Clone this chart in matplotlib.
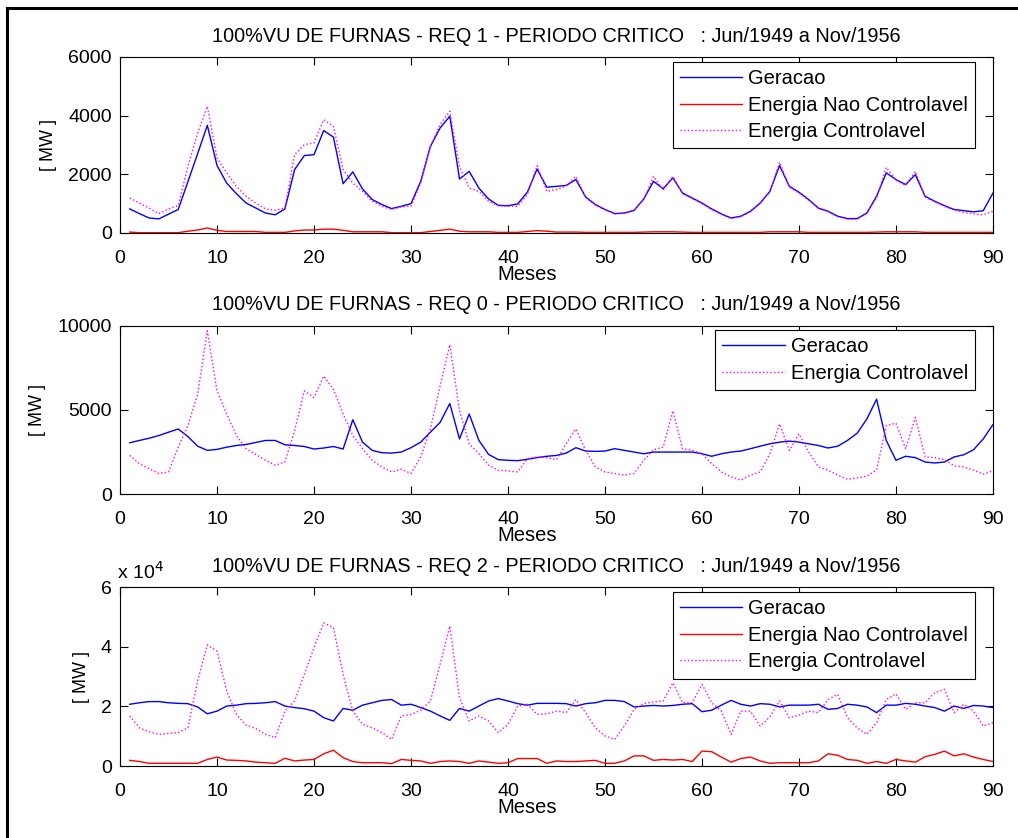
import matplotlib
matplotlib.use('Agg')
import matplotlib.pyplot as plt
from matplotlib.lines import Line2D
import numpy as np

plt.rcParams['font.family'] = ['Liberation Sans', 'DejaVu Sans']

meses = np.arange(1, 91)

# REQ 1
geracao_1 = [820, 660, 510, 480, 640, 800, 1750, 2700, 3670, 2300,
             1700, 1340, 1020, 850, 680, 620, 820, 2160, 2640, 2670,
             3490, 3270, 1680, 2080, 1500, 1140, 970, 830, 910, 1000,
             1760, 2950, 3580, 3980, 1840, 2100, 1530, 1160, 940, 930,
             990, 1390, 2180, 1560, 1590, 1620, 1820, 1230, 970, 800,
             660, 680, 770, 1160, 1760, 1510, 1880, 1360, 1190, 1020,
             820, 650, 510, 570, 740, 1020, 1420, 2300, 1590, 1390,
             1140, 850, 740, 570, 490, 490, 680, 1250, 2050, 1820,
             1650, 1990, 1250, 1080, 930, 800, 760, 720, 760, 1360]
nao_controlavel_1 = [30, 10, 10, 10, 10, 10, 60, 100, 170, 90,
                     50, 50, 50, 50, 20, 20, 20, 70, 100, 100,
                     130, 130, 90, 40, 40, 40, 40, 10, 10, 10,
                     10, 50, 90, 130, 60, 40, 40, 40, 20, 20,
                     20, 50, 80, 60, 30, 30, 30, 20, 20, 20,
                     20, 20, 20, 30, 40, 40, 40, 30, 20, 20,
                     20, 20, 20, 20, 20, 20, 40, 40, 40, 40,
                     20, 20, 20, 20, 20, 20, 20, 30, 40, 40,
                     40, 40, 20, 20, 20, 20, 20, 20, 20, 20]
controlavel_1 = [1190, 1020, 850, 660, 820, 930, 2270, 3400, 4320, 2560,
                 2050, 1590, 1250, 1020, 820, 770, 850, 2670, 3010, 3070,
                 3860, 3640, 2160, 1700, 1420, 1080, 910, 800, 890, 910,
                 1700, 2950, 3700, 4150, 2270, 1530, 1420, 1080, 930, 910,
                 910, 1310, 2300, 1420, 1480, 1600, 1930, 1210, 950, 790,
                 650, 670, 760, 1140, 1930, 1460, 1930, 1330, 1170, 1000,
                 800, 630, 490, 550, 720, 1000, 1400, 2410, 1560, 1360,
                 1120, 830, 720, 550, 470, 470, 660, 1200, 2240, 1800,
                 1620, 2100, 1220, 1060, 910, 780, 700, 650, 620, 740]

# REQ 0
geracao_0 = [3040, 3180, 3310, 3470, 3670, 3860, 3410, 2840, 2590, 2650,
             2780, 2880, 2940, 3060, 3180, 3180, 2920, 2880, 2820, 2670,
             2730, 2820, 2670, 4410, 3080, 2590, 2450, 2430, 2490, 2750,
             3080, 3670, 4250, 5370, 3270, 4750, 3180, 2350, 2040, 2000,
             1980, 2060, 2160, 2240, 2290, 2430, 2750, 2550, 2530, 2550,
             2690, 2590, 2490, 2390, 2490, 2490, 2490, 2490, 2490, 2390,
             2240, 2390, 2490, 2550, 2690, 2840, 2980, 3080, 3140, 3080,
             2980, 2880, 2730, 2840, 3180, 3610, 4450, 5630, 3180, 2000,
             2240, 2160, 1900, 1840, 1900, 2200, 2330, 2630, 3270, 4120]
controlavel_0 = [2290, 1800, 1510, 1220, 1310, 2780, 4060, 5920, 9690, 6120,
                 4750, 3470, 2690, 2350, 2000, 1710, 1900, 3760, 6120, 5730,
                 7000, 6220, 4750, 3470, 2690, 2000, 1610, 1310, 1470, 1220,
                 2200, 3860, 6410, 8860, 4940, 2980, 2390, 1710, 1410, 1370,
                 1310, 2100, 2200, 2160, 2040, 2980, 3860, 2590, 1610, 1310,
                 1220, 1120, 1220, 2000, 2630, 2780, 4940, 2690, 2590, 2390,
                 1800, 1310, 1020, 820, 1120, 1310, 2390, 4160, 2590, 3570,
                 2490, 1610, 1410, 1120, 880, 960, 1060, 1410, 4060, 4200,
                 2690, 4550, 2200, 2160, 2040, 1670, 1610, 1410, 1180, 1370]

# REQ 2 (x 10^4 MW)
geracao_2 = [2.07, 2.12, 2.16, 2.16, 2.12, 2.10, 2.09, 1.98, 1.75, 1.84,
             2.01, 2.04, 2.09, 2.10, 2.12, 2.16, 2.01, 1.96, 1.92, 1.84,
             1.62, 1.51, 1.93, 1.87, 2.04, 2.12, 2.20, 2.23, 2.04, 2.07,
             1.96, 1.84, 1.68, 1.53, 1.93, 1.84, 2.01, 2.18, 2.26, 2.18,
             2.09, 2.04, 2.10, 2.10, 2.10, 2.09, 2.01, 2.09, 2.12, 2.20,
             2.20, 2.16, 1.98, 2.01, 2.03, 2.01, 2.03, 2.07, 2.09, 1.82,
             1.87, 2.04, 2.20, 2.07, 2.01, 2.09, 2.07, 1.98, 2.04, 2.04,
             2.04, 2.07, 1.90, 1.93, 2.07, 2.04, 1.98, 1.79, 2.04, 2.04,
             2.10, 2.07, 2.01, 1.96, 1.84, 2.01, 1.93, 2.03, 2.01, 1.96]
nao_controlavel_2 = [0.19, 0.15, 0.09, 0.09, 0.09, 0.09, 0.09, 0.09, 0.22, 0.30,
                     0.20, 0.19, 0.17, 0.13, 0.11, 0.09, 0.26, 0.17, 0.20, 0.22,
                     0.41, 0.53, 0.28, 0.15, 0.11, 0.11, 0.11, 0.08, 0.22, 0.19,
                     0.17, 0.09, 0.15, 0.17, 0.15, 0.09, 0.17, 0.13, 0.09, 0.11,
                     0.25, 0.25, 0.25, 0.09, 0.17, 0.15, 0.15, 0.17, 0.19, 0.09,
                     0.09, 0.17, 0.34, 0.34, 0.19, 0.22, 0.20, 0.22, 0.15, 0.50,
                     0.48, 0.30, 0.13, 0.25, 0.30, 0.17, 0.09, 0.11, 0.11, 0.11,
                     0.11, 0.17, 0.41, 0.36, 0.22, 0.19, 0.09, 0.15, 0.09, 0.22,
                     0.17, 0.13, 0.31, 0.39, 0.50, 0.34, 0.41, 0.30, 0.22, 0.15]
controlavel_2 = [1.68, 1.28, 1.15, 1.06, 1.09, 1.12, 1.28, 2.85, 4.06, 3.85,
                 2.51, 1.73, 1.37, 1.26, 1.06, 0.95, 1.84, 2.18, 3.07, 3.97,
                 4.80, 4.64, 3.07, 1.84, 1.40, 1.28, 1.12, 0.89, 1.68, 1.73,
                 1.87, 2.18, 3.41, 4.69, 2.29, 1.51, 1.68, 1.51, 1.12, 1.40,
                 2.01, 2.07, 1.73, 1.75, 1.84, 1.79, 2.23, 1.79, 1.28, 1.01,
                 0.89, 1.34, 1.90, 2.09, 2.15, 2.18, 2.79, 2.12, 2.12, 2.74,
                 2.12, 1.84, 1.06, 1.84, 1.84, 1.34, 1.65, 2.18, 1.62, 1.71,
                 1.84, 1.79, 2.23, 2.40, 1.62, 1.28, 1.06, 1.45, 2.23, 2.42,
                 1.90, 2.12, 2.12, 2.46, 2.57, 1.79, 2.07, 1.84, 1.34, 1.45]

titulo = '100%VU DE FURNAS - REQ {} - PERIODO CRITICO   : Jun/1949 a Nov/1956'

ALTURA_FIG = 838


def estilo_eixo(ax, yticks):
    ax.set_xlim(0, 90)
    ax.set_xticks(range(0, 91, 10))
    ax.set_ylim(yticks[0], yticks[-1])
    ax.set_yticks(yticks)
    ax.tick_params(direction='in', top=True, right=True, labelsize=14,
                   length=6, width=0.8)
    ax.tick_params(axis='x', pad=12)
    ax.tick_params(axis='y', pad=6)
    ax.set_xlabel('Meses', fontsize=14.5, va='top')
    altura_px = ax.get_position().height * ALTURA_FIG
    ax.xaxis.set_label_coords(0.466, -32 / altura_px)
    ax.set_ylabel('[ MW ]', fontsize=13, labelpad=8)
    for s in ax.spines.values():
        s.set_linewidth(0.8)


def legenda(ax):
    leg = ax.legend(loc='upper right', bbox_to_anchor=(1 - 18 / 873, 1 - 5 / 176),
                    fontsize=14.5, fancybox=False, framealpha=1,
                    edgecolor='black', borderaxespad=0,
                    handlelength=3.1, handletextpad=0.3, labelspacing=0.38,
                    borderpad=0.35)
    leg.get_frame().set_linewidth(0.8)


fig = plt.figure(figsize=(10.18, 8.38), dpi=100)
esq, larg = 0.1179, 0.8575

ax1 = fig.add_axes([esq, 0.7220, larg, 0.2100])
ax1.plot(meses, geracao_1, color='blue', lw=1, label='Geracao')
ax1.plot(meses, nao_controlavel_1, color='red', lw=1, label='Energia Nao Controlavel')
ax1.plot(meses, controlavel_1, color='magenta', lw=1, ls=':', label='Energia Controlavel')
estilo_eixo(ax1, [0, 2000, 4000, 6000])
ax1.set_title(titulo.format(1), fontsize=14.3, pad=11)
legenda(ax1)

ax2 = fig.add_axes([esq, 0.4105, larg, 0.2010])
ax2.plot(meses, geracao_0, color='blue', lw=1, label='Geracao')
ax2.plot(meses, controlavel_0, color='magenta', lw=1, ls=':', label='Energia Controlavel')
estilo_eixo(ax2, [0, 5000, 10000])
ax2.set_title(titulo.format(0), fontsize=14.3, pad=11)
legenda(ax2)

ax3 = fig.add_axes([esq, 0.0859, larg, 0.2136])
ax3.plot(meses, geracao_2, color='blue', lw=1, label='Geracao')
ax3.plot(meses, nao_controlavel_2, color='red', lw=1, label='Energia Nao Controlavel')
ax3.plot(meses, controlavel_2, color='magenta', lw=1, ls=':', label='Energia Controlavel')
estilo_eixo(ax3, [0, 2, 4, 6])
ax3.set_title(titulo.format(2), fontsize=14.3, pad=11)
ax3.text(-0.003, 1.025, r'x 10$^4$', transform=ax3.transAxes, fontsize=14,
         ha='left', va='bottom')
legenda(ax3)

# moldura da figura (so esquerda e topo aparecem)
fig.add_artist(Line2D([0.0068, 0.0068], [0, 0.991], color='black', lw=2.2,
                      transform=fig.transFigure))
fig.add_artist(Line2D([0.0068, 1.0], [0.991, 0.991], color='black', lw=2.2,
                      transform=fig.transFigure))

fig.savefig('out.png', dpi=100)
